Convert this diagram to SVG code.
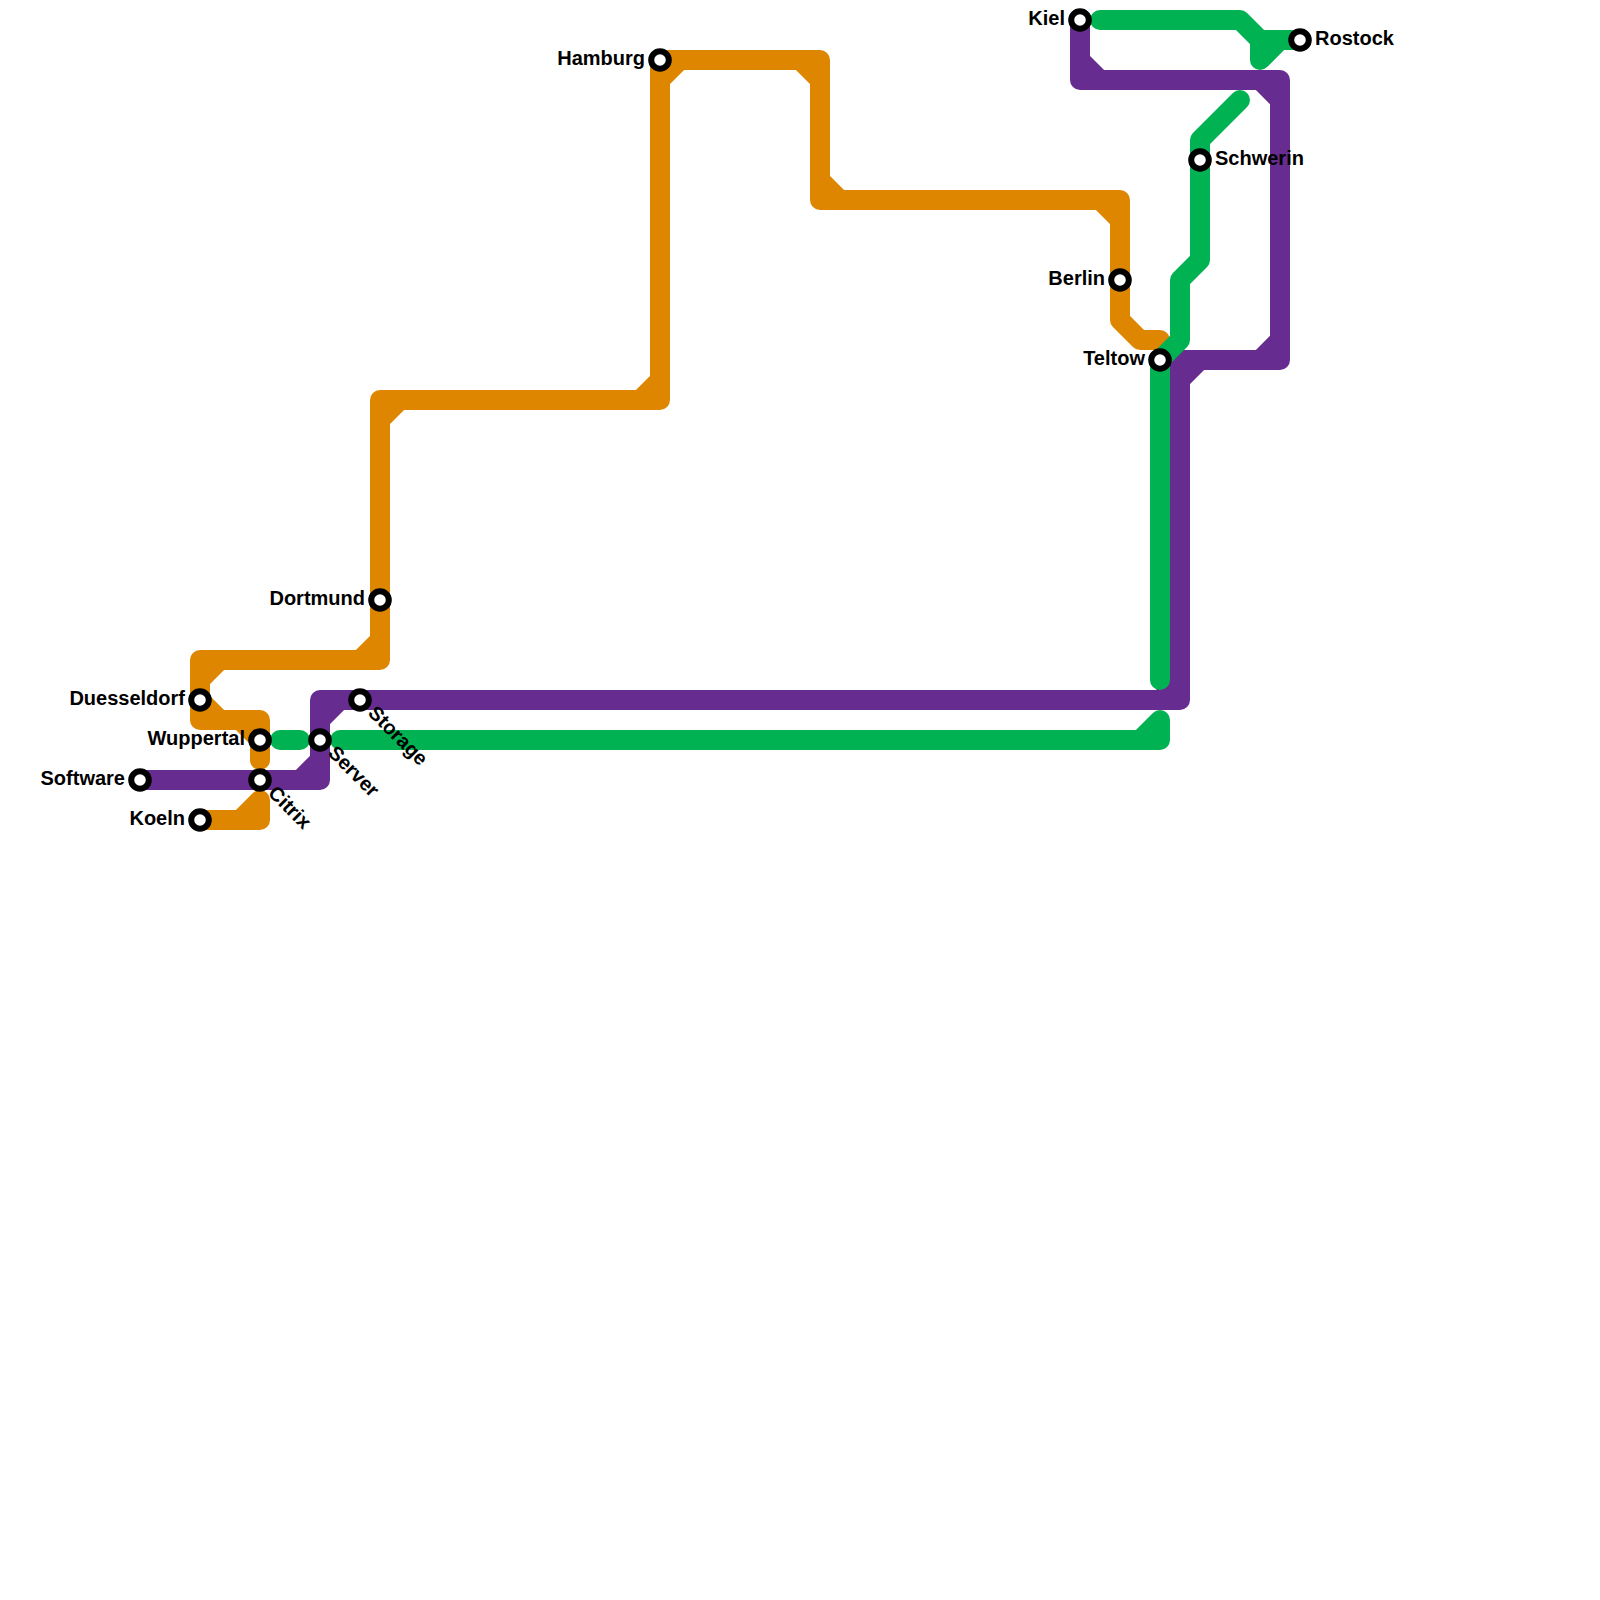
<svg xmlns="http://www.w3.org/2000/svg" width="1600" height="1600" viewBox="0 0 1600 1600">
<style>
.l{fill:none;stroke-width:20;stroke-linejoin:round;stroke-linecap:round}
.o{stroke:#df8600}.p{stroke:#662c90}.g{stroke:#00b251}
.s{fill:#fff;stroke:#000;stroke-width:6}
text{font-family:"Liberation Sans",Arial,sans-serif;font-size:20px;font-weight:700;fill:#000}
.e{text-anchor:end}
</style>
<rect width="1600" height="1600" fill="#fff"/>
<g id="connectors">
<path id="line-orange" class="l o" d="M200 820H240L260 800M240 820H260V800Z
M260 760V720H200V660H380V400H660V60H820V200H1120V320L1140 340H1160
M240 720H260V740Z M220 720H200V700Z M220 660H200V680Z M360 660H380V640Z M400 400H380V420Z M640 400H660V380Z M680 60H660V80Z M800 60H820V80Z M840 200H820V180Z M1100 200H1120V220Z"/>
<path id="line-purple" class="l p" d="M140 780H320V700H1180V360H1280V80H1080V20
M300 780H320V760Z M340 700H320V720Z M1160 700H1180V680Z M1200 360H1180V380Z M1260 360H1280V340Z M1260 80H1280V100Z M1100 80H1080V60Z"/>
<path id="line-green" class="l g" d="M280 740H300M340 740H1160V720M1140 740H1160V720Z
M1160 680V360L1180 340V280L1200 260V140L1240 100
M1100 20H1240L1260 40H1300M1280 40H1260V60Z"/>
</g>
<g id="hamburg"><circle class="s" cx="660" cy="60" r="8.8"/><text class="e" x="645" y="65">Hamburg</text></g>
<g id="kiel"><circle class="s" cx="1080" cy="20" r="8.8"/><text class="e" x="1065" y="25">Kiel</text></g>
<g id="rostock"><circle class="s" cx="1300" cy="40" r="8.8"/><text x="1315" y="45">Rostock</text></g>
<g id="schwerin"><circle class="s" cx="1200" cy="160" r="8.8"/><text x="1215" y="165">Schwerin</text></g>
<g id="berlin"><circle class="s" cx="1120" cy="280" r="8.8"/><text class="e" x="1105" y="285">Berlin</text></g>
<g id="teltow"><circle class="s" cx="1160" cy="360" r="8.8"/><text class="e" x="1145" y="365">Teltow</text></g>
<g id="dortmund"><circle class="s" cx="380" cy="600" r="8.8"/><text class="e" x="365" y="605">Dortmund</text></g>
<g id="duesseldorf"><circle class="s" cx="200" cy="700" r="8.8"/><text class="e" x="185" y="705">Duesseldorf</text></g>
<g id="wuppertal"><circle class="s" cx="260" cy="740" r="8.8"/><text class="e" x="245" y="745">Wuppertal</text></g>
<g id="software"><circle class="s" cx="140" cy="780" r="8.8"/><text class="e" x="125" y="785">Software</text></g>
<g id="koeln"><circle class="s" cx="200" cy="820" r="8.8"/><text class="e" x="185" y="825">Koeln</text></g>
<g id="citrix"><circle class="s" cx="260" cy="780" r="8.8"/><text transform="translate(267 794) rotate(45)">Citrix</text></g>
<g id="server"><circle class="s" cx="320" cy="740" r="8.8"/><text transform="translate(327 754) rotate(45)">Server</text></g>
<g id="storage"><circle class="s" cx="360" cy="700" r="8.8"/><text transform="translate(367 714) rotate(45)">Storage</text></g>
</svg>
